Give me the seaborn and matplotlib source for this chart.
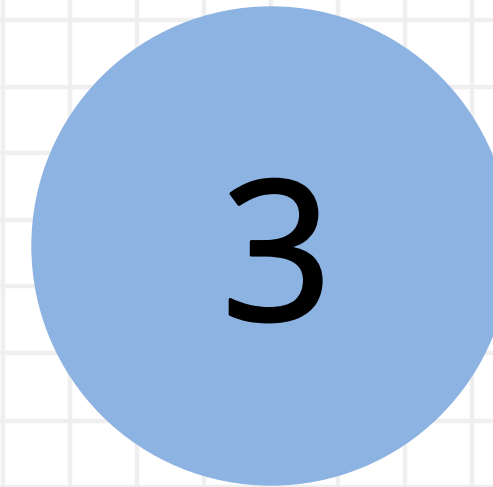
import matplotlib
matplotlib.use("Agg")
import matplotlib.pyplot as plt
import matplotlib.patches as mpatches
import matplotlib.patheffects as pe
import seaborn as sns

sns.set_style("whitegrid", {"grid.color": "#efefef", "axes.edgecolor": "white"})

# canvas in pixel units
width, height = 493, 487
grid_x = [3, 70, 137, 204, 271, 338, 405, 472]
grid_y = [20, 87, 153, 220, 286, 353, 421, 487]

circle_center = (271, 246)
circle_radius = 239
circle_color = "#8db3e2"
label = "3"

fig = plt.figure(figsize=[width / 100, height / 100], dpi=100)
ax = fig.add_axes([0, 0, 1, 1])
ax.set_xlim(0, width)
ax.set_ylim(height, 0)
ax.set_xticks(grid_x)
ax.set_yticks(grid_y)
ax.tick_params(length=0, labelbottom=False, labelleft=False)
ax.grid(True, linewidth=3.2, color="#efefef")
ax.set_axisbelow(True)
sns.despine(ax=ax, left=True, bottom=True)

ax.add_patch(mpatches.Circle(circle_center, circle_radius, color=circle_color, zorder=2))
ax.text(277, 320, label, ha="center", va="baseline", fontsize=140,
        family=["Open Sans", "DejaVu Sans"], color="black", zorder=3,
        path_effects=[pe.withStroke(linewidth=2.2, foreground="black")])

fig.savefig("out.png", dpi=100)
